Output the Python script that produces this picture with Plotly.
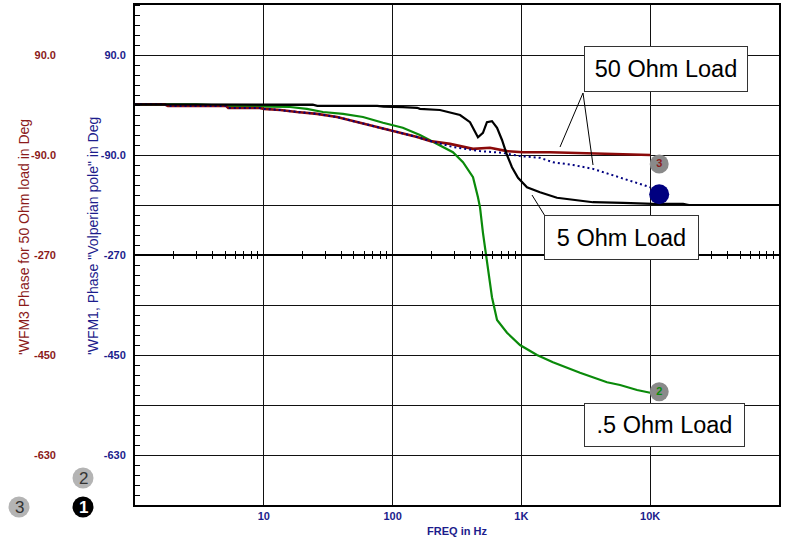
import plotly.graph_objects as go

# ---------------- data ----------------
freq_5ohm = [1, 24, 26, 76, 85, 108, 120, 155, 163, 233, 334, 399, 460, 503, 540, 591, 647, 707, 773, 845,
             941, 1105, 1394, 1888, 3597, 6152, 10500, 18000, 20000, 100000]
phase_5ohm = [1, 0.5, -1.5, -1.5, -3, -3, -4, -5, -7, -9, -18, -31, -58, -50, -31, -29, -41, -63, -90, -112,
              -131, -148, -157, -167, -175, -176, -178, -178, -180, -180]

freq_50ohm = [1, 1.7, 1.8, 5.1, 5.3, 9.3, 10, 13.4, 18.1, 25.9, 37, 53, 75.7, 108, 155, 195, 233, 279, 421, 570,
              773, 1029, 1667, 4876, 10000]
phase_50ohm = [1.3, 1.3, -1.8, -1.8, -5.4, -5.4, -7, -9, -12.6, -16, -21.6, -30.6, -39.6, -48.6, -57.6, -64.8,
               -68, -70, -79, -77, -83, -85, -85, -88, -90]

freq_volp = [1, 1.7, 1.8, 5.1, 5.3, 9.3, 10, 13.4, 18.1, 25.9, 37, 53, 75.7, 108, 155, 195, 233, 294, 477, 707,
             975, 1394, 1758, 2518, 3597, 5834, 10000]
phase_volp = [1.3, 1.3, -1.8, -1.8, -5.4, -5.4, -7, -9, -12.6, -16, -21.6, -30.6, -39.6, -48.6, -57.6, -64.8,
              -70, -75.6, -83, -86, -92, -95, -103, -108, -115, -130, -148]

freq_05ohm = [1, 3, 5.2, 10, 16, 21.6, 28.8, 41.2, 58.9, 84.2, 120, 163, 233, 294, 352, 421, 460, 477, 503, 540,
              591, 647, 773, 975, 1321, 1758, 2851, 4621, 5834, 7907, 10000]
phase_05ohm = [1, 1, -1.5, -3, -3.6, -7, -12.6, -16, -21.6, -32, -41, -54, -72, -85, -103, -130, -166, -184, -230,
               -284, -346, -387, -410, -432, -450, -463, -482, -499, -504, -513, -518]

x_tick_vals = [10, 100, 1000, 10000]
x_tick_text = ["10", "100", "1K", "10K"]
y_grid_vals = [180, 90, 0, -90, -180, -270, -360, -450, -540, -630, -720]
y_grid_text = ["", "90.0", "", "-90.0", "", "-270", "", "-450", "", "-630", ""]
y_label_vals = [90, -90, -270, -450, -630]
y_label_text = ["90.0", "-90.0", "-270", "-450", "-630"]
minor_log_ticks = [k * 10 ** d for d in range(5) for k in range(2, 10)]

# ---------------- geometry helpers (decorations only) ----------------
W, H = 798, 539
ML, MR, MT, MB = 0, 19, 5, 34
PW = W - ML - MR
PLOT_L, PLOT_T, PLOT_B = 135, 5, 505
PH = PLOT_B - PLOT_T
PX_PER_DEC = (PW - PLOT_L) / 5.0
DEG_PER_PX = 900.0 / PH


def pxx(x):
    return x / PW


def pxy(y):
    return (PLOT_B - y) / PH


FONT = "Arial, Liberation Sans, sans-serif"
RED = "#8b0a0a"
RED_TXT = "#8b1a1a"
NAVY = "#000080"
NAVY_TXT = "#1c1c8c"
GREEN = "#0a8a0a"

fig = go.Figure()

fig.add_trace(go.Scatter(x=freq_05ohm, y=phase_05ohm, mode="lines", line=dict(color=GREEN, width=2.2),
                         hoverinfo="skip"))
fig.add_trace(go.Scatter(x=freq_50ohm, y=phase_50ohm, mode="lines", line=dict(color=RED, width=2.6),
                         hoverinfo="skip"))
fig.add_trace(go.Scatter(x=freq_volp, y=phase_volp, mode="lines",
                         line=dict(color=NAVY, width=2, dash="2px,3px"), hoverinfo="skip"))
fig.add_trace(go.Scatter(x=freq_5ohm, y=phase_5ohm, mode="lines", line=dict(color="black", width=2.2),
                         hoverinfo="skip"))


def end_marker(fx, py_, dxpx, dypx, color, size, text="", tcolor="black"):
    fig.add_trace(go.Scatter(
        x=[fx * 10 ** (dxpx / PX_PER_DEC)], y=[py_ - dypx * DEG_PER_PX],
        mode="markers+text" if text else "markers",
        marker=dict(color=color, size=size, line=dict(width=0)),
        text=[text], textposition="middle center",
        textfont=dict(family=FONT, size=11, color=tcolor, weight="bold"),
        cliponaxis=False, hoverinfo="skip"))


end_marker(freq_50ohm[-1], phase_50ohm[-1], 9, 9, "#8a8a8a", 19, "3", RED_TXT)
end_marker(freq_volp[-1], phase_volp[-1], 9, 7, NAVY, 20)
end_marker(freq_05ohm[-1], phase_05ohm[-1], 9, -1, "#8a8a8a", 19, "2", GREEN)
end_marker(freq_5ohm[-1], phase_5ohm[-1], 10, 10, "#8a8a8a", 19, "4", "black")

# dummy traces so the -270 crossing axes get drawn
fig.add_trace(go.Scatter(x=[1], y=[None], xaxis="x2", yaxis="y", showlegend=False, hoverinfo="skip"))
fig.add_trace(go.Scatter(x=[1], y=[None], xaxis="x3", yaxis="y", showlegend=False, hoverinfo="skip"))
fig.add_trace(go.Scatter(x=[1], y=[None], xaxis="x", yaxis="y2", showlegend=False, hoverinfo="skip"))

dom_x0 = PLOT_L / PW
cross_axis = dict(type="log", range=[0, 5], overlaying="x", anchor="free", position=0.5,
                  domain=[dom_x0, 1], showline=True, linecolor="black", linewidth=1.5,
                  tickmode="array", tickvals=minor_log_ticks, showticklabels=False,
                  ticklen=3, tickcolor="black", tickwidth=1, showgrid=False, zeroline=False)

fig.update_layout(
    width=W, height=H, margin=dict(l=ML, r=MR, t=MT, b=MB),
    paper_bgcolor="white", plot_bgcolor="white", showlegend=False,
    font=dict(family=FONT),
    xaxis=dict(type="log", range=[0, 5], domain=[dom_x0, 1],
               tickmode="array", tickvals=x_tick_vals, ticktext=x_tick_text,
               tickfont=dict(family=FONT, size=11, color=NAVY_TXT, weight="bold"),
               ticks="", showgrid=True, gridcolor="#111111", gridwidth=1,
               showline=True, linecolor="black", linewidth=2, mirror=True, zeroline=False,
               title=dict(text="FREQ in Hz", font=dict(family=FONT, size=11, color=NAVY_TXT, weight="bold"),
                          standoff=6)),
    xaxis2=dict(cross_axis, ticks="outside"),
    xaxis3=dict(cross_axis, ticks="inside"),
    yaxis=dict(range=[-720, 180], tickmode="array", tickvals=y_grid_vals, ticktext=y_grid_text,
               tickfont=dict(family=FONT, size=11, color=NAVY_TXT, weight="bold"),
               ticks="", ticklabelstandoff=5,
               showgrid=True, gridcolor="#111111", gridwidth=1,
               showline=True, linecolor="black", linewidth=2, mirror=True, zeroline=False,
               minor=dict(tickmode="linear", tick0=0, dtick=18, ticks="inside", ticklen=5,
                          tickcolor="black", tickwidth=1, showgrid=False)),
    yaxis2=dict(range=[-720, 180], overlaying="y", anchor="free", position=pxx(56), side="left",
                tickmode="array", tickvals=y_label_vals, ticktext=y_label_text,
                tickfont=dict(family=FONT, size=11, color=RED_TXT, weight="bold"),
                ticks="", showgrid=False, showline=False, zeroline=False),
)

# rotated axis titles
fig.add_annotation(x=pxx(14), y=pxy(237), xref="paper", yref="paper", textangle=-90, showarrow=False,
                   text="'WFM3 Phase for 50 Ohm load in Deg", font=dict(family=FONT, size=14, color=RED_TXT))
fig.add_annotation(x=pxx(83), y=pxy(236), xref="paper", yref="paper", textangle=-90, showarrow=False,
                   text="'WFM1, Phase \"Volperian pole\" in Deg", font=dict(family=FONT, size=14, color=NAVY_TXT))

# label boxes
for txt, x0, x1, y0, y1 in [("50 Ohm Load", 584, 747, 46, 91),
                            ("5 Ohm Load", 544, 698, 216, 260),
                            (".5 Ohm Load", 584, 744, 403, 446)]:
    fig.add_annotation(x=pxx((x0 + x1) / 2), y=pxy((y0 + y1) / 2), xref="paper", yref="paper",
                       showarrow=False, text=txt, font=dict(family=FONT, size=23.5, color="black"),
                       bgcolor="white", bordercolor="#333333", borderwidth=1, borderpad=0,
                       width=x1 - x0 - 1, height=y1 - y0 - 1, xanchor="center", yanchor="middle")

# pointer lines
for (ax, ay, bx, by) in [(583, 93, 560, 147), (583, 93, 593, 165), (545, 216, 532, 195)]:
    fig.add_shape(type="line", xref="paper", yref="paper", x0=pxx(ax), y0=pxy(ay), x1=pxx(bx), y1=pxy(by),
                  line=dict(color="black", width=1))

# bottom-left trace-number badges
for cx, cy, fill, txt, tcol, bold in [(83, 478, "#b4b4b4", "2", "#333333", False),
                                      (19, 507, "#b4b4b4", "3", "#333333", False),
                                      (83, 507, "black", "1", "white", True)]:
    fig.add_shape(type="circle", xref="paper", yref="paper", xsizemode="pixel", ysizemode="pixel",
                  xanchor=pxx(cx), yanchor=pxy(cy), x0=-10.5, x1=10.5, y0=-10.5, y1=10.5,
                  fillcolor=fill, line=dict(width=0))
    fig.add_annotation(x=pxx(cx), y=pxy(cy), xref="paper", yref="paper", showarrow=False, text=txt,
                       font=dict(family=FONT, size=17, color=tcol, weight="bold" if bold else "normal"),
                       xanchor="center", yanchor="middle")

fig.write_html("out.html", config={"displayModeBar": False},
               post_script="document.body.style.margin='0px';document.body.style.overflow='hidden';")
